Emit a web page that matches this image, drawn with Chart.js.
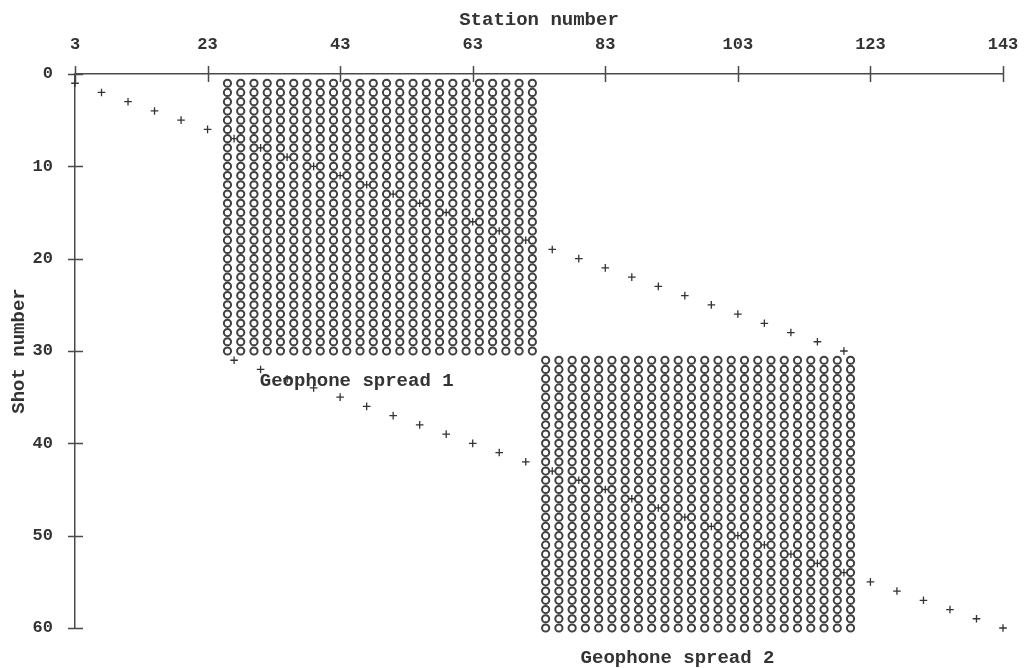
<!DOCTYPE html>
<html>
<head>
<meta charset="utf-8">
<title>Shot and geophone layout</title>
<script src="https://cdn.jsdelivr.net/npm/chart.js@4/dist/chart.umd.min.js"></script>
<style>
  html, body { margin: 0; padding: 0; background: #ffffff; }
  #wrap { width: 1027px; height: 668px; position: relative; }
</style>
</head>
<body>
<div id="wrap"><canvas id="chart"></canvas></div>
<script>
// Axis tick labels
const stationTicks = [3, 23, 43, 63, 83, 103, 123, 143];
const shotTicks = [0, 10, 20, 30, 40, 50, 60];

// Geophone spread 1: receiver stations and the shots recorded on them
const spread1Stations = [26, 28, 30, 32, 34, 36, 38, 40, 42, 44, 46, 48, 50, 52, 54, 56, 58, 60, 62, 64, 66, 68, 70, 72];
const spread1Shots = [1, 2, 3, 4, 5, 6, 7, 8, 9, 10, 11, 12, 13, 14, 15, 16, 17, 18, 19, 20, 21, 22, 23, 24, 25, 26, 27, 28, 29, 30];

// Geophone spread 2
const spread2Stations = [74, 76, 78, 80, 82, 84, 86, 88, 90, 92, 94, 96, 98, 100, 102, 104, 106, 108, 110, 112, 114, 116, 118, 120];
const spread2Shots = [31, 32, 33, 34, 35, 36, 37, 38, 39, 40, 41, 42, 43, 44, 45, 46, 47, 48, 49, 50, 51, 52, 53, 54, 55, 56, 57, 58, 59, 60];

// Source position (station) of every shot
const shotNumbers = [1, 2, 3, 4, 5, 6, 7, 8, 9, 10, 11, 12, 13, 14, 15, 16, 17, 18, 19, 20, 21, 22, 23, 24, 25, 26, 27, 28, 29, 30,
                     31, 32, 33, 34, 35, 36, 37, 38, 39, 40, 41, 42, 43, 44, 45, 46, 47, 48, 49, 50, 51, 52, 53, 54, 55, 56, 57, 58, 59, 60];
const sourceStations = [3, 7, 11, 15, 19, 23, 27, 31, 35, 39, 43, 47, 51, 55, 59, 63, 67, 71, 75, 79, 83, 87, 91, 95, 99, 103, 107, 111, 115, 119,
                        27, 31, 35, 39, 43, 47, 51, 55, 59, 63, 67, 71, 75, 79, 83, 87, 91, 95, 99, 103, 107, 111, 115, 119, 123, 127, 131, 135, 139, 143];

// Spread labels, anchored in station / shot coordinates
const labelTexts = ['Geophone spread 1', 'Geophone spread 2'];
const labelStations = [45.5, 93.9];
const labelShots = [33.3, 63.3];

const INK = '#333333';
const FONT = '"Liberation Mono", "DejaVu Sans Mono", monospace';

function gridPoints(stations, shots) {
  const pts = [];
  for (const s of shots) for (const st of stations) pts.push({ x: st, y: s });
  return pts;
}

const sourcePoints = shotNumbers.map((s, i) => ({ x: sourceStations[i], y: s }));

// Tick marks that cross the axis line, plus the spread labels
const axisDecor = {
  id: 'axisDecor',
  afterDraw(chart) {
    const { ctx, chartArea, scales } = chart;
    const xs = scales.x, ys = scales.y;
    ctx.save();
    ctx.strokeStyle = '#4a4a4a';
    ctx.lineWidth = 1.5;
    ctx.beginPath();
    for (const t of xs.ticks) {
      const px = Math.round(xs.getPixelForValue(t.value)) + 0.5;
      ctx.moveTo(px, chartArea.top - 8);
      ctx.lineTo(px, chartArea.top + 8);
    }
    for (const t of ys.ticks) {
      const py = Math.round(ys.getPixelForValue(t.value)) + 0.5;
      ctx.moveTo(chartArea.left - 7, py);
      ctx.lineTo(chartArea.left + 8, py);
    }
    ctx.stroke();

    ctx.fillStyle = INK;
    ctx.font = 'bold 19px ' + FONT;
    ctx.textAlign = 'center';
    ctx.textBaseline = 'middle';
    labelTexts.forEach((txt, i) => {
      ctx.fillText(txt, xs.getPixelForValue(labelStations[i]), ys.getPixelForValue(labelShots[i]));
    });
    ctx.restore();
  }
};

const circleStyle = {
  pointStyle: 'circle',
  pointRadius: 3.6,
  pointBorderWidth: 2,
  pointBorderColor: '#404040',
  pointBackgroundColor: 'rgba(255,255,255,0)',
  showLine: false,
  clip: false
};

new Chart(document.getElementById('chart'), {
  type: 'scatter',
  data: {
    datasets: [
      Object.assign({ label: 'Geophone spread 1', data: gridPoints(spread1Stations, spread1Shots) }, circleStyle),
      Object.assign({ label: 'Geophone spread 2', data: gridPoints(spread2Stations, spread2Shots) }, circleStyle),
      {
        label: 'Shots',
        data: sourcePoints,
        pointStyle: 'cross',
        pointRadius: 3.8,
        pointBorderWidth: 1.3,
        pointBorderColor: INK,
        showLine: false,
        clip: false
      }
    ]
  },
  options: {
    responsive: true,
    maintainAspectRatio: false,
    animation: false,
    layout: { padding: { top: 0, left: 0, right: 24, bottom: 40 } },
    plugins: { legend: { display: false }, tooltip: { enabled: false } },
    scales: {
      x: {
        type: 'linear',
        position: 'top',
        min: 3,
        max: 143,
        afterBuildTicks(scale) { scale.ticks = stationTicks.map(v => ({ value: v })); },
        afterFit(scale) { scale.height = 74; },
        grid: { display: false, drawTicks: true, tickLength: 16 },
        border: { display: true, color: '#4a4a4a', width: 1.5 },
        ticks: {
          padding: 3,
          color: INK,
          font: { family: FONT, size: 17, weight: 'bold' },
          maxRotation: 0,
          autoSkip: false,
          callback: v => String(v)
        },
        title: {
          display: true,
          text: 'Station number',
          color: INK,
          font: { family: FONT, size: 19, weight: 'bold' },
          padding: { top: 9, bottom: 0 }
        }
      },
      y: {
        type: 'linear',
        reverse: true,
        min: 0,
        max: 60,
        afterBuildTicks(scale) { scale.ticks = shotTicks.map(v => ({ value: v })); },
        afterFit(scale) { scale.width = 75; },
        grid: { display: false, drawTicks: true, tickLength: 19 },
        border: { display: true, color: '#4a4a4a', width: 1.5 },
        ticks: {
          padding: 3,
          color: INK,
          font: { family: FONT, size: 17, weight: 'bold' },
          autoSkip: false,
          callback: v => String(v)
        },
        title: {
          display: true,
          text: 'Shot number',
          color: INK,
          font: { family: FONT, size: 19, weight: 'bold' },
          padding: { top: 8, bottom: 0 }
        }
      }
    }
  },
  plugins: [axisDecor]
});
</script>
</body>
</html>
